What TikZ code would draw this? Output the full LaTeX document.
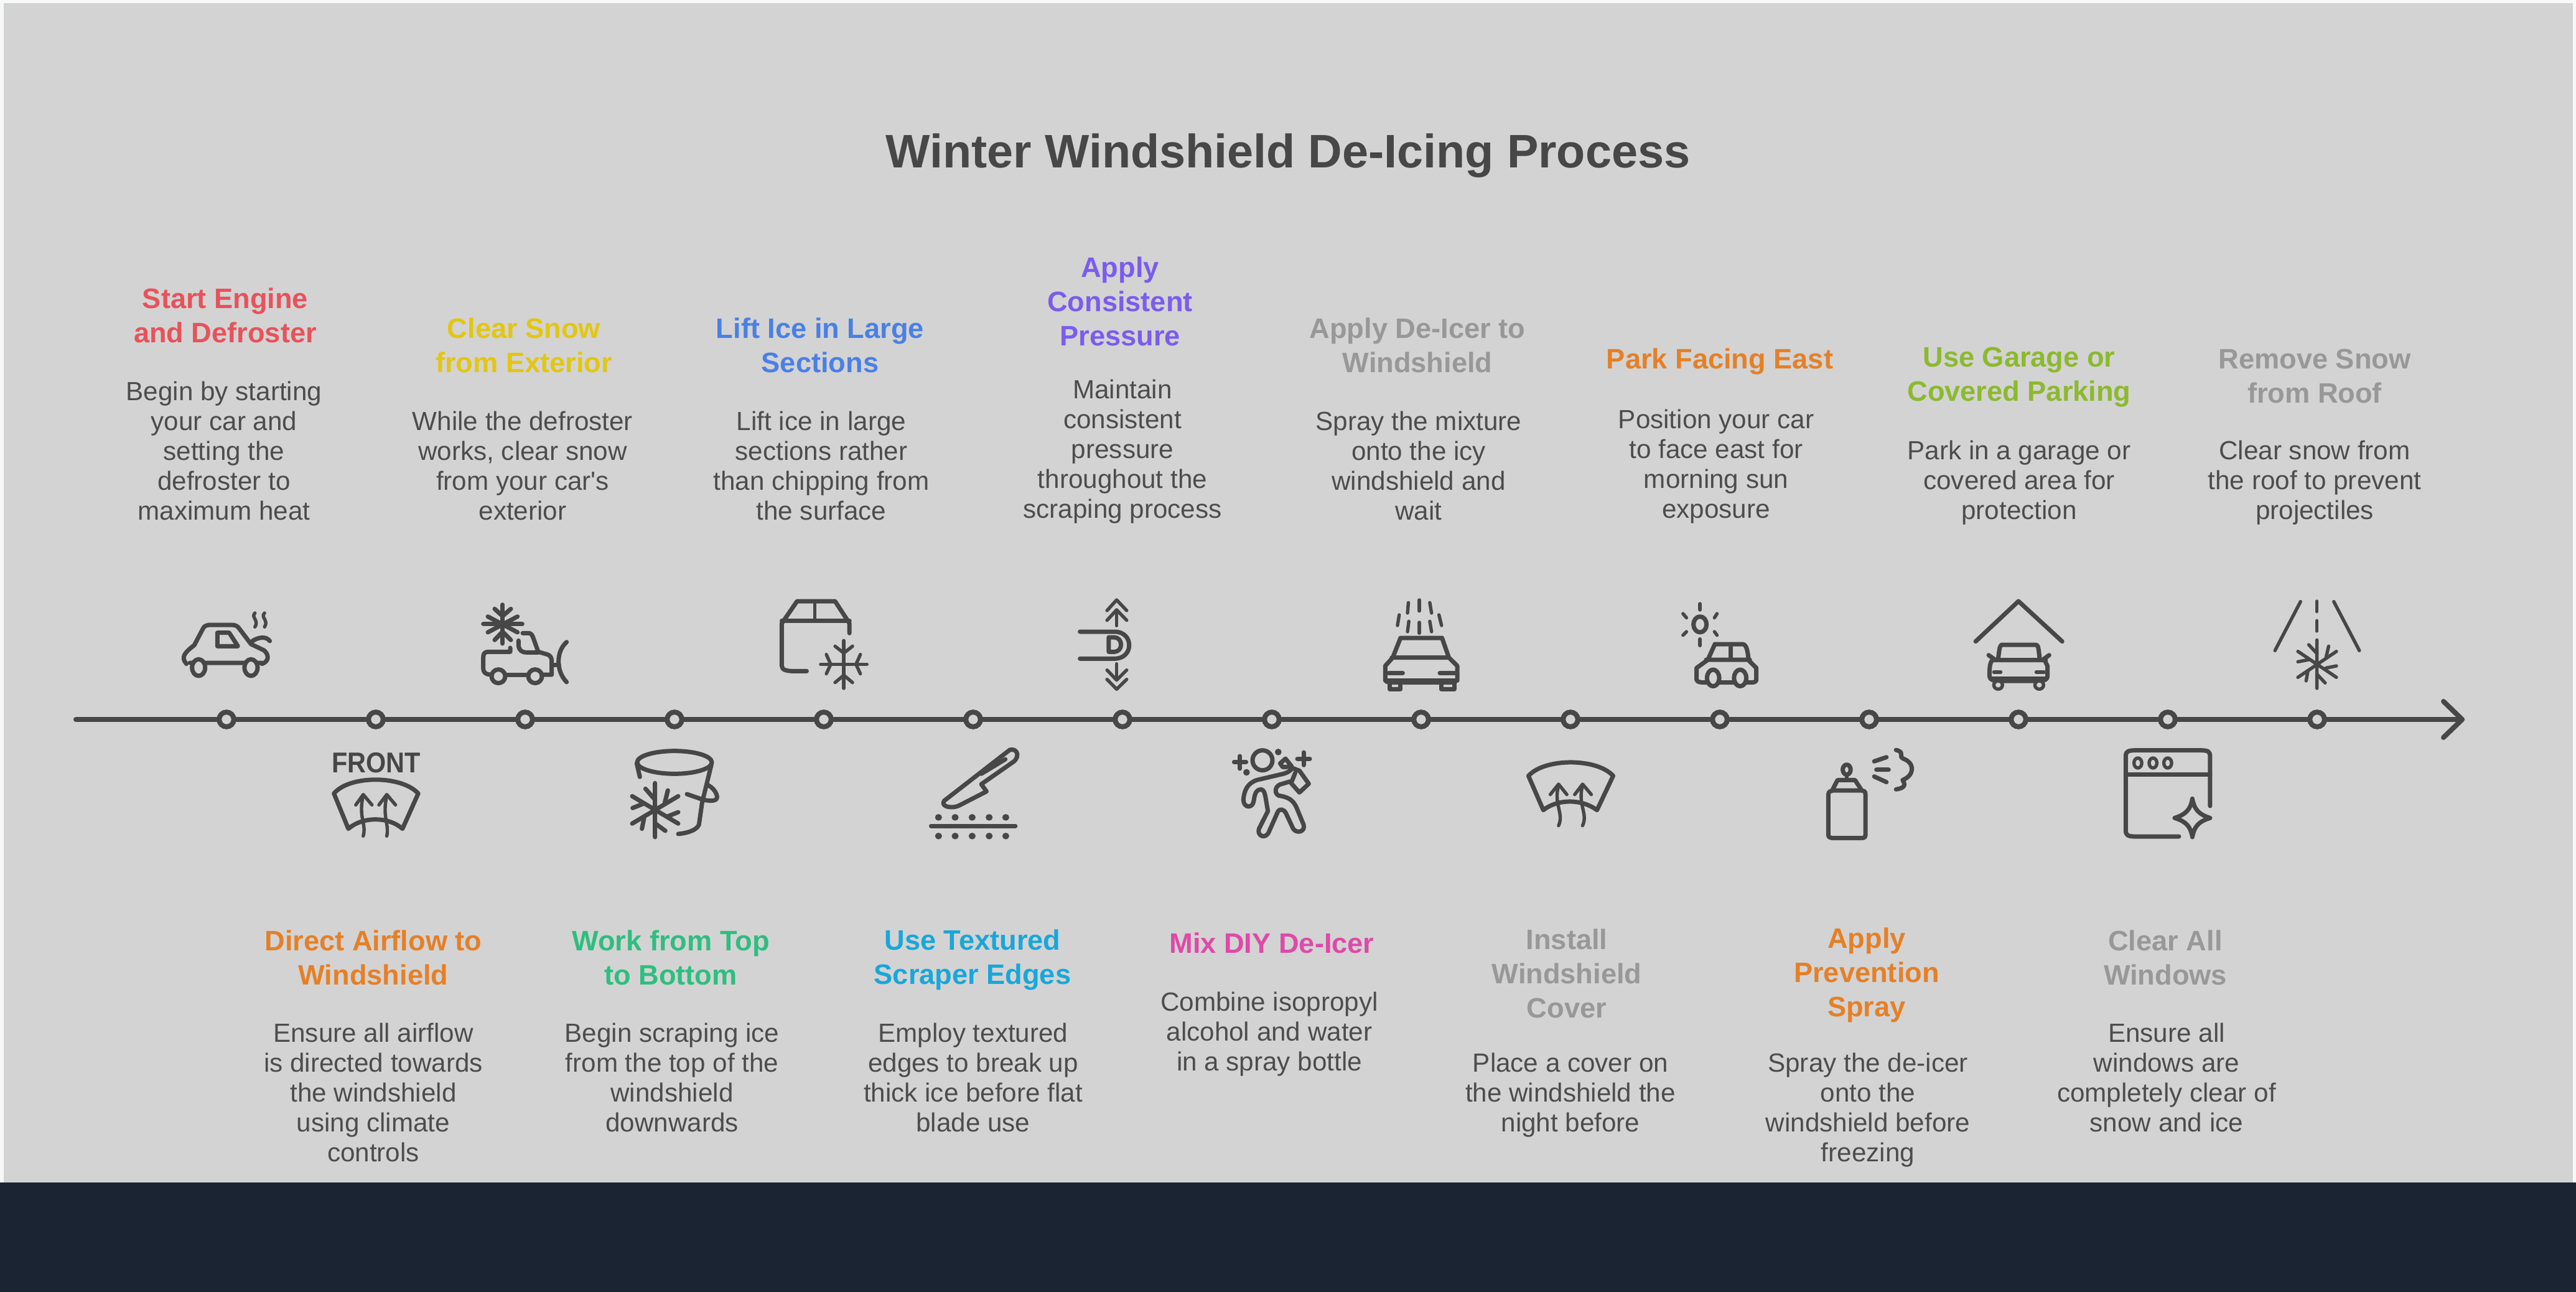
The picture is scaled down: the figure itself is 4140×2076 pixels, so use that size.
\documentclass[tikz,border=0pt]{standalone}
\usepackage{fontspec}
\setmainfont{Liberation Sans}
\newfontfamily\plainquote{Liberation Sans}
\usetikzlibrary{arrows.meta}

\definecolor{panel}{HTML}{D3D3D3}
\definecolor{outer}{HTML}{F7F9F9}
\definecolor{band}{HTML}{1A2433}
\definecolor{ink}{HTML}{474747}
\definecolor{bodyink}{HTML}{4D4D4D}
\definecolor{cRed}{HTML}{E8525A}
\definecolor{cYellow}{HTML}{E3C60F}
\definecolor{cBlue}{HTML}{4A80E6}
\definecolor{cPurple}{HTML}{7B5CEE}
\definecolor{cGrey}{HTML}{989898}
\definecolor{cOrange}{HTML}{E58027}
\definecolor{cGreen}{HTML}{8CB92E}
\definecolor{cTeal}{HTML}{2EBE80}
\definecolor{cCyan}{HTML}{18A7DA}
\definecolor{cPink}{HTML}{DE4AA8}

\tikzset{
  headtext/.style={font=\fontsize{22.6}{27.5}\selectfont\bfseries,align=center,inner sep=0pt},
  bodytext/.style={font=\fontsize{21.1}{24}\selectfont,align=center,inner sep=0pt,text=bodyink},
  stop/.style={circle,draw=ink,fill=panel,line width=4pt,minimum size=11.8pt,inner sep=0pt},
  icon/.style={draw=ink,line width=3.5pt,line cap=round,line join=round},
  thin icon/.style={icon,line width=2.7pt},
  crop/.style 2 args={shift={(#1,#2)},x=0.3508pt,y=-0.16667pt},
  closeup/.style 2 args={shift={(#1,#2)},x=0.16667pt,y=-0.16667pt},
}

\begin{document}
\begin{tikzpicture}[x=0.5pt,y=-0.5pt]
    % page
    \fill[outer] (0,0) rectangle (4140,2076);
    \fill[panel] (6,5) rectangle (4135,1900);
    \fill[band] (0,1900) rectangle (4140,2076);
    \useasboundingbox (0,0) rectangle (4140,2076);

    \node[font=\fontsize{37.8}{44}\selectfont\bfseries,text=ink,inner sep=0pt] (title) at (2070,250) {Winter Windshield De-Icing Process};

    % axis and stops
    \coordinate (axisstart) at (122,1156);
    \coordinate (axisend) at (3957,1156);
    \draw[ink,line width=4pt,line cap=round] (axisstart) -- (axisend);
    \draw[ink,line width=4pt,line cap=round,line join=round] (3927,1127) -- (axisend) -- (3927,1185);
    \foreach \i in {1,...,15}
      \node[stop] (stop\i) at ({364+240*(\i-1)},1156) {};

    % upper labels
    \node[headtext,text=cRed] (head1) at (362,507) {Start Engine\\and Defroster};
    \node[bodytext] (body1) at (360,724) {Begin by starting\\your car and\\setting the\\defroster to\\maximum heat};
    \node[headtext,text=cYellow] (head3) at (842,555) {Clear Snow\\from Exterior};
    \node[bodytext] (body3) at (840,748) {While the defroster\\works, clear snow\\from your car{\plainquote\symbol{39}}s\\exterior};
    \node[headtext,text=cBlue] (head5) at (1318,555) {Lift Ice in Large\\Sections};
    \node[bodytext] (body5) at (1320,748) {Lift ice in large\\sections rather\\than chipping from\\the surface};
    \node[headtext,text=cPurple] (head7) at (1800,484) {Apply\\Consistent\\Pressure};
    \node[bodytext] (body7) at (1804,726) {Maintain\\consistent\\pressure\\throughout the\\scraping process};
    \node[headtext,text=cGrey] (head9) at (2278,555) {Apply De-Icer to\\Windshield};
    \node[bodytext] (body9) at (2280,748) {Spray the mixture\\onto the icy\\windshield and\\wait};
    \node[headtext,text=cOrange] (head11) at (2764,581) {Park Facing East};
    \node[bodytext] (body11) at (2758,750) {Position your car\\to face east for\\morning sun\\exposure};
    \node[headtext,text=cGreen] (head13) at (3245,606) {Use Garage or\\Covered Parking};
    \node[bodytext] (body13) at (3245,776) {Park in a garage or\\covered area for\\protection};
    \node[headtext,text=cGrey] (head15) at (3720,604) {Remove Snow\\from Roof};
    \node[bodytext] (body15) at (3720,776) {Clear snow from\\the roof to prevent\\projectiles};

    % lower labels
    \node[headtext,text=cOrange] (head2) at (600,1539) {Direct Airflow to\\Windshield};
    \node[bodytext] (body2) at (600,1755) {Ensure all airflow\\is directed towards\\the windshield\\using climate\\controls};
    \node[headtext,text=cTeal] (head4) at (1078,1539) {Work from Top\\to Bottom};
    \node[bodytext] (body4) at (1080,1731) {Begin scraping ice\\from the top of the\\windshield\\downwards};
    \node[headtext,text=cCyan] (head6) at (1563,1542) {Use Textured\\Scraper Edges};
    \node[bodytext] (body6) at (1564,1731) {Employ textured\\edges to break up\\thick ice before flat\\blade use};
    \node[headtext,text=cPink] (head8) at (2044,1515) {Mix DIY De-Icer};
    \node[bodytext] (body8) at (2040,1662) {Combine isopropyl\\alcohol and water\\in a spray bottle};
    \node[headtext,text=cGrey] (head10) at (2518,1564) {Install\\Windshield\\Cover};
    \node[bodytext] (body10) at (2524,1760) {Place a cover on\\the windshield the\\night before};
    \node[headtext,text=cOrange] (head12) at (3000,1567) {Apply\\Prevention\\Spray};
    \node[bodytext] (body12) at (3002,1784) {Spray the de-icer\\onto the\\windshield before\\freezing};
    \node[headtext,text=cGrey] (head14) at (3480,1539) {Clear All\\Windows};
    \node[bodytext] (body14) at (3482,1731) {Ensure all\\windows are\\completely clear of\\snow and ice};

    % icons left crop
    \begin{scope}[crop={0}{900}]
      % car with steam
      \draw[icon] (427,500) .. controls (415,470) and (420,450) .. (445,410) -- (465,330) .. controls (468,315) and (475,312) .. (485,312) -- (530,312) .. controls (540,312) and (545,320) .. (548,330) -- (575,405) -- (605,435) .. controls (618,460) and (615,490) .. (600,500) (435,495) -- (600,495);
      \draw[icon] (498,350) -- (525,350) -- (545,415) -- (498,415) -- cycle;
      \draw[icon] (575,395) .. controls (590,370) and (610,365) .. (618,390);
      \draw[icon,fill=panel] (455,518) ellipse (15 and 40);
      \draw[icon,fill=panel] (575,518) ellipse (15 and 40);
      \draw[thin icon] (584,255) .. controls (574,275) and (594,290) .. (584,322);
      \draw[thin icon] (606,255) .. controls (596,275) and (616,290) .. (606,322);
      % front text and windshield
      \node[font=\fontsize{23}{26}\selectfont\bfseries,text=ink,inner sep=0pt,transform shape,xscale=0.9] (fronttext) at (862,976) {FRONT};
      \draw[icon] (765,1125) .. controls (800,1036) and (920,1036) .. (958,1125) -- (922,1295) .. controls (890,1235) and (830,1235) .. (798,1295) -- cycle;
      \draw[thin icon] (832,1330) .. controls (840,1270) and (820,1240) .. (832,1135);
      \draw[thin icon] (886,1330) .. controls (892,1270) and (875,1240) .. (886,1135);
      \draw[thin icon] (815,1180) -- (832,1130) -- (852,1180) (868,1180) -- (886,1130) -- (906,1180);
    \end{scope}

    % plow truck with snowflake
    \begin{scope}[closeup={760}{960}]
      \draw[icon] (143,35) -- (143,222) (50,128) -- (238,128);
      \draw[icon] (72,92) -- (215,168) (215,92) -- (72,168);
      \draw[icon] (105,55) -- (143,90) -- (183,55) (105,205) -- (143,165) -- (183,205);
      \draw[icon] (180,243) -- (180,262) -- (75,262) .. controls (55,262) and (50,272) .. (50,290) -- (50,340) .. controls (50,362) and (60,370) .. (85,372);
      \draw[icon] (240,172) -- (268,172) .. controls (280,172) and (285,180) .. (290,192) -- (315,262) -- (360,275) .. controls (375,282) and (380,290) .. (380,310) -- (380,372) -- (335,372);
      \draw[icon] (220,208) -- (220,235) .. controls (225,255) and (235,265) .. (260,265) -- (315,265);
      \draw[icon] (150,372) -- (265,372) (385,325) -- (415,325);
      \draw[icon,fill=panel] (123,380) circle (33);
      \draw[icon,fill=panel] (300,380) circle (33);
      \draw[icon] (452,215) .. controls (400,260) and (400,355) .. (452,408);
    \end{scope}

    % bucket with snowflake
    \begin{scope}[closeup={990}{1190}]
      \draw[icon] (282,105) ellipse (180 and 55);
      \draw[icon] (100,110) -- (115,175);
      \draw[icon] (460,115) -- (415,300) -- (400,405) .. controls (390,430) and (350,445) .. (300,450);
      \draw[icon] (342,258) -- (420,285) .. controls (470,295) and (495,290) .. (485,260) .. controls (478,240) and (462,225) .. (445,215);
      \draw[icon] (188,205) -- (188,465) (78,268) -- (300,400) (300,268) -- (78,400);
      \draw[icon] (142,232) -- (188,285) (250,240) -- (235,300) (80,325) -- (130,305) (300,345) -- (250,365) (125,425) -- (135,375) (238,435) -- (190,400);
    \end{scope}

    % person with spray
    \begin{scope}[closeup={1960}{1190}]
      \draw[icon] (207,95) circle (48);
      \draw[icon] (70,103) -- (128,103) (98,75) -- (98,135) (375,87) -- (435,87) (405,57) -- (405,118);
      \fill[ink] (130,153) circle (16) (283,55) circle (16);
      \draw[icon] (345,140) .. controls (330,155) and (310,160) .. (295,163) -- (180,190) .. controls (135,205) and (118,240) .. (115,285) .. controls (115,325) and (160,330) .. (165,290) .. controls (170,250) and (180,235) .. (200,235) .. controls (215,238) and (218,255) .. (222,275) -- (233,340) -- (190,425) .. controls (178,460) and (225,480) .. (240,435) -- (280,345) .. controls (290,325) and (310,330) .. (320,350) -- (355,425) .. controls (372,450) and (415,440) .. (405,405) -- (372,325) .. controls (355,285) and (330,272) .. (285,265) .. controls (265,255) and (265,225) .. (290,212) -- (340,197);
      \draw[icon] (292,110) -- (318,87) -- (348,125) -- (305,128) -- cycle;
      \draw[icon] (345,130) -- (385,145) -- (430,208) -- (385,250) -- (345,205) -- (365,155);
    \end{scope}

    % icons second crop
    \begin{scope}[crop={1100}{900}]
      % box with snowflake
      \draw[icon] (378,352) -- (378,305) -- (345,198) -- (258,198) -- (223,305) -- (223,510) .. controls (223,530) and (235,535) .. (250,535) -- (280,535);
      \draw[icon] (223,292) -- (378,292);
      \draw[thin icon] (299,198) -- (299,285);
      \draw[thin icon] (365,388) -- (365,618) (312,502) -- (418,502);
      \draw[thin icon] (345,415) -- (365,448) -- (385,415) (345,590) -- (365,555) -- (385,590);
      \draw[thin icon] (325,455) -- (335,502) -- (325,548) (403,455) -- (393,502) -- (403,548);
      % thumb with up down chevrons
      \draw[icon] (906,345) -- (985,345) .. controls (1030,345) and (1030,475) .. (985,475) -- (906,475);
      \draw[icon] (972,372) -- (985,372) .. controls (1005,375) and (1005,440) .. (985,442) -- (972,442) -- cycle;
      \draw[thin icon] (990,316) -- (990,240);
      \draw[thin icon] (968,243) -- (990,192) -- (1013,243) (968,290) -- (990,240) -- (1013,290);
      \draw[thin icon] (990,500) -- (990,578);
      \draw[thin icon] (968,530) -- (990,578) -- (1013,530) (968,575) -- (990,622) -- (1013,575);
      % scraper
      \draw[icon] (595,1160) -- (745,915) .. controls (760,905) and (770,940) .. (755,970) -- (680,1080) -- (692,1115) -- (630,1182) .. controls (615,1200) and (585,1190) .. (595,1160) -- cycle;
      \draw[icon] (680,1030) -- (735,960);
      \foreach \ux in {582,620,659,698,736} {
        \fill[ink] (\ux,1240) ellipse (8 and 16);
        \fill[ink] (\ux,1330) ellipse (8 and 16);
      }
      \draw[icon] (565,1281) -- (758,1281);
    \end{scope}

    % icons third crop
    \begin{scope}[crop={2100}{900}]
      % car with spray
      \foreach \ua/\ub/\uc/\ud in {258/192/258/245,233/205/231/255,282/205/286/255,212/264/208/315,303/264/309/315,234/295/231/345,258/300/258/352,282/295/286/345}
        \draw[thin icon] (\ua,\ub) -- (\uc,\ud);
      \draw[icon] (215,375) -- (310,375) -- (325,465) (215,375) -- (198,465) (195,470) -- (322,470);
      \draw[icon] (198,468) -- (180,510) -- (180,575) .. controls (180,585) and (185,590) .. (195,590) -- (325,590) .. controls (335,590) and (345,585) .. (345,575) -- (345,510) -- (325,468);
      \draw[icon] (180,580) -- (345,580) (188,545) -- (220,545) (305,545) -- (340,545);
      \draw[icon] (190,595) -- (190,622) -- (215,622) -- (215,595) (308,595) -- (308,622) -- (338,622) -- (338,595);
      % sun and car
      \draw[icon] (901,310) ellipse (15 and 38);
      \foreach \ua/\ub/\uc/\ud in {901/210/901/240,901/380/901/412,862/258/870/278,940/258/934/278,862/362/870/345,940/362/934/345}
        \draw[thin icon] (\ua,\ub) -- (\uc,\ud);
      \draw[icon] (935,405) -- (998,405) .. controls (1008,405) and (1010,440) .. (1012,475) (935,405) -- (920,475) (915,480) -- (1015,480);
      \draw[icon] (972,420) -- (972,470);
      \draw[icon] (918,482) -- (893,520) -- (893,575) .. controls (893,590) and (905,590) .. (915,590) -- (1015,590) .. controls (1030,590) and (1030,585) .. (1030,570) -- (1030,520) -- (1012,482);
      \draw[icon,fill=panel] (931,568) ellipse (14 and 40);
      \draw[icon,fill=panel] (993,568) ellipse (14 and 40);
      % windshield cover
      \draw[icon] (508,1040) .. controls (545,953) and (665,953) .. (702,1040) -- (665,1205) .. controls (630,1150) and (575,1150) .. (542,1205) -- cycle;
      \draw[thin icon] (577,1280) .. controls (590,1220) and (565,1180) .. (577,1085);
      \draw[thin icon] (632,1280) .. controls (645,1220) and (620,1180) .. (632,1085);
      \draw[thin icon] (558,1130) -- (577,1080) -- (596,1130) (614,1130) -- (632,1080) -- (652,1130);
      % spray can
      \draw[icon] (1195,1130) .. controls (1195,1115) and (1200,1110) .. (1212,1110) -- (1265,1110) .. controls (1278,1110) and (1280,1115) .. (1280,1130) -- (1280,1325) .. controls (1280,1340) and (1275,1340) .. (1265,1340) -- (1210,1340) .. controls (1198,1340) and (1195,1335) .. (1195,1325) -- cycle;
      \draw[icon] (1205,1105) -- (1216,1060) -- (1256,1060) -- (1270,1105);
      \draw[icon] (1237,1010) ellipse (9 and 24);
      \draw[thin icon] (1237,1035) -- (1237,1060);
      \draw[icon] (1300,970) -- (1328,950) (1305,1010) -- (1333,1010) (1300,1043) -- (1328,1070);
      \draw[icon] (1350,915) .. controls (1375,930) and (1350,945) .. (1370,960) .. controls (1395,985) and (1390,1040) .. (1365,1060) .. controls (1375,1090) and (1365,1100) .. (1350,1105);
    \end{scope}

    % icons last crop
    \begin{scope}[crop={3050}{900},x=0.3476pt]
      % garage
      \draw[icon] (180,392) -- (279,198) -- (380,392);
      \draw[icon] (240,408) -- (318,408) .. controls (325,408) and (325,420) .. (328,475) (240,408) .. controls (235,415) and (235,430) .. (232,475);
      \draw[icon] (218,482) -- (342,482) (210,458) -- (226,482) (350,458) -- (334,482);
      \draw[icon] (218,485) .. controls (212,495) and (212,530) .. (212,560) .. controls (212,580) and (225,582) .. (235,582) -- (325,582) .. controls (340,582) and (346,575) .. (346,560) -- (346,510) -- (340,485);
      \draw[thin icon] (214,568) -- (346,568) (222,540) -- (238,540) (320,540) -- (338,540);
      \draw[thin icon,fill=panel] (232,602) ellipse (10 and 20);
      \draw[thin icon,fill=panel] (327,602) ellipse (10 and 20);
      % road and snowflake
      \draw[thin icon] (931,200) -- (872,436) (1008,200) -- (1067,436);
      \draw[thin icon] (969,198) -- (969,248) (969,292) -- (969,342);
      \draw[thin icon] (969,385) -- (969,618) (925,440) -- (1014,565) (1014,440) -- (925,565);
      \draw[thin icon] (950,408) -- (969,450) (996,415) -- (990,470) (925,490) -- (950,480) (1014,510) -- (990,520) (944,582) -- (948,535) (988,592) -- (969,550);
      % window with sparkle
      \draw[icon] (650,1332) -- (545,1332) .. controls (530,1332) and (527,1320) .. (527,1305) -- (527,940) .. controls (527,922) and (535,917) .. (548,917) -- (702,917) .. controls (718,917) and (722,925) .. (722,945) -- (722,1185);
      \draw[icon] (527,1032) -- (722,1032);
      \foreach \ux in {555,590,624}
        \draw[thin icon] (\ux,978) ellipse (9 and 24);
      \draw[icon] (681,1150) .. controls (685,1200) and (695,1225) .. (722,1243) .. controls (695,1260) and (685,1285) .. (681,1335) .. controls (677,1285) and (667,1260) .. (640,1243) .. controls (667,1225) and (677,1200) .. (681,1150) -- cycle;
    \end{scope}

  \end{tikzpicture}
\end{document}
